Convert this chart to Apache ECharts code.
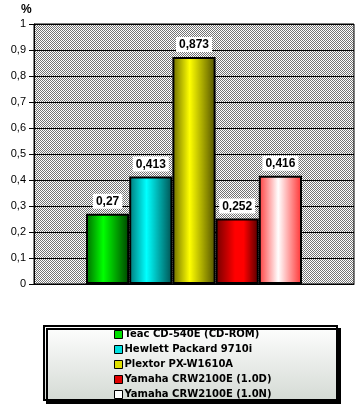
<!DOCTYPE html>
<html><head><meta charset="utf-8">
<script src="https://cdn.jsdelivr.net/npm/echarts@6/dist/echarts.min.js"></script>
<style>html,body{margin:0;padding:0;background:#fff}#c{width:360px;height:407px}</style>
</head><body><div id="c"></div>
<script>
const categories = [''];
const seriesNames = ['Teac CD-540E (CD-ROM)', 'Hewlett Packard 9710i', 'Plextor PX-W1610A', 'Yamaha CRW2100E (1.0D)', 'Yamaha CRW2100E (1.0N)'];
const seriesValues = [0.27, 0.413, 0.873, 0.252, 0.416];
const yTicks = [0, 0.1, 0.2, 0.3, 0.4, 0.5, 0.6, 0.7, 0.8, 0.9, 1];

const gradStops = [
  [[0,'#006a00'],[0.4,'#00ff00'],[1,'#004400']],
  [[0,'#007878'],[0.4,'#00ffff'],[1,'#005050']],
  [[0,'#6a6a00'],[0.4,'#ffff00'],[1,'#505000']],
  [[0,'#700000'],[0.45,'#ff0000'],[0.65,'#ff0000'],[1,'#500000']],
  [[0,'#ff3c3c'],[0.45,'#ffffff'],[1,'#ff3030']]
];
const legendColors = ['#00e000','#00e0e0','#e0e000','#e00000','#ffffff'];

const pc = document.createElement('canvas');
pc.width = 2; pc.height = 2;
const px = pc.getContext('2d');
px.fillStyle = '#ffffff'; px.fillRect(0,0,2,2);
px.fillStyle = '#747474'; px.fillRect(0,0,1,1); px.fillRect(1,1,1,1);

const chart = echarts.init(document.getElementById('c'), null, {renderer:'canvas'});
const fmt = v => String(v).replace('.', ',');

chart.setOption({
  animation: false,
  title: { text: '%', left: 16, top: -1, textStyle: { fontFamily: 'Liberation Sans', fontWeight: 'bold', fontSize: 12, color: '#000' } },
  grid: { left: 34, right: 6, top: 24, bottom: 123, show: true, backgroundColor: { image: pc, repeat: 'repeat' }, borderColor: '#000', borderWidth: 1 },
  xAxis: { type: 'category', data: categories, axisLine: { lineStyle: { color: '#000' } }, axisTick: { show: false }, axisLabel: { show: false } },
  yAxis: {
    type: 'value', min: 0, max: 1, interval: 0.1,
    axisLine: { show: true, lineStyle: { color: '#000' } },
    axisTick: { show: true, length: 5, lineStyle: { color: '#000' } },
    axisLabel: { margin: 8, color: '#000', fontFamily: 'Liberation Sans', fontSize: 11, formatter: v => fmt(Math.round(v*10)/10) },
    splitLine: { lineStyle: { color: '#000', width: 1 } }
  },
  legend: {
    orient: 'vertical', left: 114, top: 327, padding: 0, itemGap: 0,
    itemWidth: 8, itemHeight: 8, icon: 'rect',
    textStyle: { fontFamily: 'DejaVu Sans', fontWeight: 'bold', fontSize: 10, color: '#000', lineHeight: 15, height: 15, padding: [0,0,0,-3] },
    data: seriesNames.map((n,i) => ({ name: n, itemStyle: { color: legendColors[i], borderColor: '#000', borderWidth: 1 } }))
  },
  graphic: [{
    type: 'rect', z: -1, silent: true,
    shape: { x: 44, y: 326, width: 293, height: 74 },
    style: { fill: new echarts.graphic.LinearGradient(0,0,0,1,[{offset:0,color:'#ffffff'},{offset:1,color:'#d4dad4'}]), stroke: '#000', lineWidth: 2, shadowColor: '#000', shadowOffsetX: 3, shadowOffsetY: 3, shadowBlur: 0 }
  }],
  series: seriesNames.map((n,i) => ({
    type: 'bar', name: n, data: [seriesValues[i]],
    barGap: '0%', barCategoryGap: '32.5%',
    itemStyle: { color: new echarts.graphic.LinearGradient(0,0,1,0, gradStops[i].map(s => ({offset:s[0], color:s[1]}))), borderColor: '#000', borderWidth: 2 },
    label: { show: true, position: 'top', distance: 5, formatter: p => fmt(p.value), backgroundColor: '#fff', padding: [2,3,1,3], color: '#000', fontFamily: 'Liberation Sans', fontWeight: 'bold', fontSize: 12 }
  }))
});
</script></body></html>
